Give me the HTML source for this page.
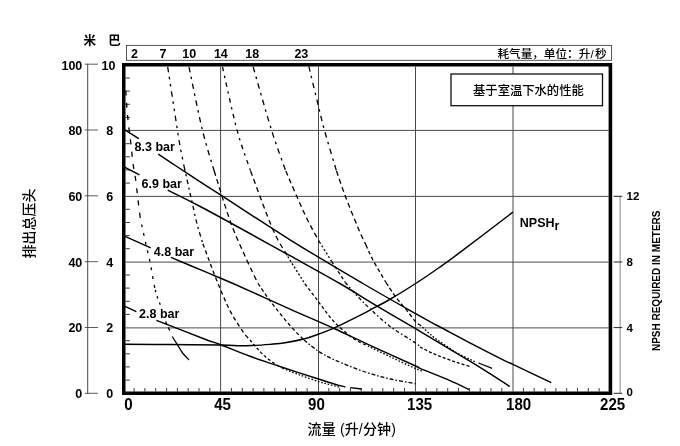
<!DOCTYPE html>
<html lang="zh">
<head>
<meta charset="utf-8">
<title>性能曲线</title>
<style>
html,body{margin:0;padding:0;background:#fff;}
body{width:680px;height:446px;overflow:hidden;font-family:"Liberation Sans","Noto Sans CJK SC",sans-serif;}
svg{display:block;}
</style>
</head>
<body>
<svg width="680" height="446" viewBox="0 0 680 446">
<rect x="0" y="0" width="680" height="446" fill="#fff"/>
<line x1="220.6" y1="66.6" x2="220.6" y2="391.5" stroke="#4a4a4a" stroke-width="1"/>
<line x1="318.5" y1="66.6" x2="318.5" y2="391.5" stroke="#4a4a4a" stroke-width="1"/>
<line x1="415.5" y1="66.6" x2="415.5" y2="391.5" stroke="#4a4a4a" stroke-width="1"/>
<line x1="513.0" y1="66.6" x2="513.0" y2="391.5" stroke="#4a4a4a" stroke-width="1"/>
<line x1="125.5" y1="130.4" x2="608.6" y2="130.4" stroke="#4a4a4a" stroke-width="1"/>
<line x1="125.5" y1="196.4" x2="608.6" y2="196.4" stroke="#4a4a4a" stroke-width="1"/>
<line x1="125.5" y1="262.1" x2="608.6" y2="262.1" stroke="#4a4a4a" stroke-width="1"/>
<line x1="125.5" y1="327.9" x2="608.6" y2="327.9" stroke="#4a4a4a" stroke-width="1"/>
<line x1="134.1" y1="388.0" x2="134.1" y2="391.5" stroke="#333" stroke-width="0.95"/>
<line x1="144.9" y1="388.0" x2="144.9" y2="391.5" stroke="#333" stroke-width="0.95"/>
<line x1="155.7" y1="388.0" x2="155.7" y2="391.5" stroke="#333" stroke-width="0.95"/>
<line x1="166.6" y1="388.0" x2="166.6" y2="391.5" stroke="#333" stroke-width="0.95"/>
<line x1="177.4" y1="388.0" x2="177.4" y2="391.5" stroke="#333" stroke-width="0.95"/>
<line x1="188.2" y1="388.0" x2="188.2" y2="391.5" stroke="#333" stroke-width="0.95"/>
<line x1="199.0" y1="388.0" x2="199.0" y2="391.5" stroke="#333" stroke-width="0.95"/>
<line x1="209.8" y1="388.0" x2="209.8" y2="391.5" stroke="#333" stroke-width="0.95"/>
<line x1="231.4" y1="388.0" x2="231.4" y2="391.5" stroke="#333" stroke-width="0.95"/>
<line x1="242.3" y1="388.0" x2="242.3" y2="391.5" stroke="#333" stroke-width="0.95"/>
<line x1="253.1" y1="388.0" x2="253.1" y2="391.5" stroke="#333" stroke-width="0.95"/>
<line x1="263.9" y1="388.0" x2="263.9" y2="391.5" stroke="#333" stroke-width="0.95"/>
<line x1="274.7" y1="388.0" x2="274.7" y2="391.5" stroke="#333" stroke-width="0.95"/>
<line x1="285.5" y1="388.0" x2="285.5" y2="391.5" stroke="#333" stroke-width="0.95"/>
<line x1="296.3" y1="388.0" x2="296.3" y2="391.5" stroke="#333" stroke-width="0.95"/>
<line x1="307.1" y1="388.0" x2="307.1" y2="391.5" stroke="#333" stroke-width="0.95"/>
<line x1="328.8" y1="388.0" x2="328.8" y2="391.5" stroke="#333" stroke-width="0.95"/>
<line x1="339.6" y1="388.0" x2="339.6" y2="391.5" stroke="#333" stroke-width="0.95"/>
<line x1="350.4" y1="388.0" x2="350.4" y2="391.5" stroke="#333" stroke-width="0.95"/>
<line x1="361.2" y1="388.0" x2="361.2" y2="391.5" stroke="#333" stroke-width="0.95"/>
<line x1="372.0" y1="388.0" x2="372.0" y2="391.5" stroke="#333" stroke-width="0.95"/>
<line x1="382.8" y1="388.0" x2="382.8" y2="391.5" stroke="#333" stroke-width="0.95"/>
<line x1="393.7" y1="388.0" x2="393.7" y2="391.5" stroke="#333" stroke-width="0.95"/>
<line x1="404.5" y1="388.0" x2="404.5" y2="391.5" stroke="#333" stroke-width="0.95"/>
<line x1="426.1" y1="388.0" x2="426.1" y2="391.5" stroke="#333" stroke-width="0.95"/>
<line x1="436.9" y1="388.0" x2="436.9" y2="391.5" stroke="#333" stroke-width="0.95"/>
<line x1="447.7" y1="388.0" x2="447.7" y2="391.5" stroke="#333" stroke-width="0.95"/>
<line x1="458.5" y1="388.0" x2="458.5" y2="391.5" stroke="#333" stroke-width="0.95"/>
<line x1="469.4" y1="388.0" x2="469.4" y2="391.5" stroke="#333" stroke-width="0.95"/>
<line x1="480.2" y1="388.0" x2="480.2" y2="391.5" stroke="#333" stroke-width="0.95"/>
<line x1="491.0" y1="388.0" x2="491.0" y2="391.5" stroke="#333" stroke-width="0.95"/>
<line x1="501.8" y1="388.0" x2="501.8" y2="391.5" stroke="#333" stroke-width="0.95"/>
<line x1="523.4" y1="388.0" x2="523.4" y2="391.5" stroke="#333" stroke-width="0.95"/>
<line x1="534.2" y1="388.0" x2="534.2" y2="391.5" stroke="#333" stroke-width="0.95"/>
<line x1="545.1" y1="388.0" x2="545.1" y2="391.5" stroke="#333" stroke-width="0.95"/>
<line x1="555.9" y1="388.0" x2="555.9" y2="391.5" stroke="#333" stroke-width="0.95"/>
<line x1="566.7" y1="388.0" x2="566.7" y2="391.5" stroke="#333" stroke-width="0.95"/>
<line x1="577.5" y1="388.0" x2="577.5" y2="391.5" stroke="#333" stroke-width="0.95"/>
<line x1="588.3" y1="388.0" x2="588.3" y2="391.5" stroke="#333" stroke-width="0.95"/>
<line x1="599.1" y1="388.0" x2="599.1" y2="391.5" stroke="#333" stroke-width="0.95"/>
<line x1="125.5" y1="380.1" x2="129.9" y2="380.1" stroke="#333" stroke-width="0.95"/>
<line x1="125.5" y1="366.9" x2="129.9" y2="366.9" stroke="#333" stroke-width="0.95"/>
<line x1="125.5" y1="353.8" x2="129.9" y2="353.8" stroke="#333" stroke-width="0.95"/>
<line x1="125.5" y1="340.7" x2="129.9" y2="340.7" stroke="#333" stroke-width="0.95"/>
<line x1="125.5" y1="314.4" x2="129.9" y2="314.4" stroke="#333" stroke-width="0.95"/>
<line x1="125.5" y1="301.3" x2="129.9" y2="301.3" stroke="#333" stroke-width="0.95"/>
<line x1="125.5" y1="288.1" x2="129.9" y2="288.1" stroke="#333" stroke-width="0.95"/>
<line x1="125.5" y1="275.0" x2="129.9" y2="275.0" stroke="#333" stroke-width="0.95"/>
<line x1="125.5" y1="248.7" x2="129.9" y2="248.7" stroke="#333" stroke-width="0.95"/>
<line x1="125.5" y1="235.6" x2="129.9" y2="235.6" stroke="#333" stroke-width="0.95"/>
<line x1="125.5" y1="222.5" x2="129.9" y2="222.5" stroke="#333" stroke-width="0.95"/>
<line x1="125.5" y1="209.3" x2="129.9" y2="209.3" stroke="#333" stroke-width="0.95"/>
<line x1="125.5" y1="183.1" x2="129.9" y2="183.1" stroke="#333" stroke-width="0.95"/>
<line x1="125.5" y1="169.9" x2="129.9" y2="169.9" stroke="#333" stroke-width="0.95"/>
<line x1="125.5" y1="156.8" x2="129.9" y2="156.8" stroke="#333" stroke-width="0.95"/>
<line x1="125.5" y1="143.7" x2="129.9" y2="143.7" stroke="#333" stroke-width="0.95"/>
<line x1="125.5" y1="117.4" x2="129.9" y2="117.4" stroke="#333" stroke-width="0.95"/>
<line x1="125.5" y1="104.3" x2="129.9" y2="104.3" stroke="#333" stroke-width="0.95"/>
<line x1="125.5" y1="91.1" x2="129.9" y2="91.1" stroke="#333" stroke-width="0.95"/>
<line x1="125.5" y1="78.0" x2="129.9" y2="78.0" stroke="#333" stroke-width="0.95"/>
<path d="M124.5,129.6 L138.8,138.6" fill="none" stroke="#000" stroke-width="1.45"/>
<path d="M158.3,154.1 C161.0,155.9 168.0,160.6 174.6,165.0 C181.2,169.4 190.1,175.2 197.9,180.3 C205.7,185.4 206.0,185.5 221.3,195.4 C236.7,205.3 266.4,225.1 290.0,239.8 C313.6,254.5 342.0,271.2 362.9,283.5 C383.8,295.8 403.4,306.7 415.6,313.6 C427.8,320.5 427.2,320.1 436.3,325.0 C445.4,329.9 458.9,337.2 470.3,343.2 C481.8,349.2 497.9,357.3 505.0,360.8 C512.1,364.3 505.2,360.8 512.9,364.4 C520.6,368.0 544.9,379.6 551.3,382.7" fill="none" stroke="#000" stroke-width="1.45"/>
<path d="M124.5,167.2 L139.5,174.8" fill="none" stroke="#000" stroke-width="1.45"/>
<path d="M167.7,190.1 C173.9,193.2 184.6,198.1 205.0,209.0 C225.4,219.9 267.7,243.4 290.0,255.7 C312.3,268.0 324.3,274.5 339.0,283.0 C353.7,291.5 365.2,299.0 378.0,306.6 C390.8,314.2 408.6,324.6 415.6,328.7 C422.6,332.8 415.1,328.4 420.0,331.3 C424.9,334.2 436.7,341.4 445.1,346.4 C453.5,351.4 461.1,355.8 470.3,361.4 C479.5,367.0 493.8,376.1 500.4,380.3 C507.0,384.5 508.2,385.5 509.8,386.5" fill="none" stroke="#000" stroke-width="1.45"/>
<path d="M124.5,236.1 L150.8,247.9" fill="none" stroke="#000" stroke-width="1.45"/>
<path d="M170.9,257.4 C176.6,259.8 194.7,267.3 205.0,271.7 C215.3,276.1 218.8,277.3 233.0,283.5 C247.2,289.7 273.2,301.6 290.0,309.1 C306.8,316.6 321.0,322.6 334.0,328.5 C347.0,334.4 354.3,338.1 367.9,344.3 C381.5,350.6 406.9,362.0 415.6,366.0 C424.3,370.0 414.4,365.9 420.0,368.3 C425.6,370.7 441.4,376.8 449.5,380.3 C457.6,383.8 465.7,388.0 468.9,389.5" fill="none" stroke="#000" stroke-width="1.45"/>
<path d="M124.5,306.1 L136.3,311.6" fill="none" stroke="#000" stroke-width="1.45"/>
<path d="M156.4,320.4 C164.5,323.5 194.2,335.1 205.0,339.2 C215.8,343.3 213.8,342.1 221.3,345.0 C228.8,347.9 240.0,352.6 250.0,356.3 C260.0,360.0 270.0,363.2 281.4,367.0 C292.8,370.8 309.6,376.1 318.5,379.0 C327.4,381.9 330.5,382.9 335.0,384.2 C339.5,385.5 343.6,386.5 345.3,387.0" fill="none" stroke="#000" stroke-width="1.45"/>
<path d="M350.3,387.6 L361.6,389.0" fill="none" stroke="#000" stroke-width="1.45"/>
<path d="M124.5,344.3 C132.1,344.3 153.9,344.4 170.0,344.5 C186.1,344.6 209.6,344.8 221.3,345.0 C233.0,345.2 234.4,345.7 240.0,345.8 C245.6,345.9 250.0,345.6 255.0,345.4 C260.0,345.2 265.0,344.8 270.0,344.4 C275.0,343.9 279.4,343.6 285.0,342.7 C290.6,341.8 298.2,340.4 303.8,339.0 C309.4,337.6 313.4,336.0 318.3,334.2 C323.2,332.4 328.5,330.4 333.4,328.3 C338.3,326.2 343.3,323.6 347.8,321.4 C352.3,319.2 356.7,317.0 360.4,315.1 C364.1,313.2 365.0,312.8 370.0,310.1 C375.0,307.4 382.9,303.4 390.5,299.0 C398.1,294.6 407.4,288.8 415.6,283.5 C423.9,278.2 432.6,272.2 440.0,267.0 C447.4,261.8 447.9,261.5 460.0,252.4 C472.1,243.3 504.1,218.9 512.9,212.2" fill="none" stroke="#000" stroke-width="1.45"/>
<path d="M125.8,90.5 C125.9,92.2 126.2,97.2 126.4,101.0 C126.7,104.8 126.9,108.9 127.3,113.0 C127.7,117.1 128.2,121.7 128.6,125.5 C129.0,129.3 129.6,132.3 130.0,136.0 C130.4,139.7 130.9,143.5 131.3,147.5 C131.7,151.5 132.2,156.4 132.6,160.2 C133.0,163.9 133.5,166.7 134.0,170.0 C134.5,173.3 135.1,175.6 135.7,180.0 C136.3,184.4 136.9,190.3 137.6,196.4 C138.3,202.5 139.6,212.9 140.1,216.5 C140.6,220.1 140.3,217.8 140.4,218.0" fill="none" stroke="#000" stroke-width="1.3" stroke-dasharray="5 7.3"/>
<path d="M141.6,224.5 C141.7,225.1 141.6,224.3 142.4,228.0 C143.2,231.7 145.1,240.6 146.4,246.4 C147.7,252.2 149.0,257.1 150.2,262.7 C151.3,268.3 152.5,275.8 153.3,280.3 C154.1,284.9 154.9,288.4 155.2,290.0" fill="none" stroke="#000" stroke-width="1.3" stroke-dasharray="2.8 6"/>
<path d="M155.2,290.0 C155.6,291.2 156.6,295.0 157.5,297.5 C158.4,300.0 159.9,303.8 160.4,305.0" fill="none" stroke="#000" stroke-width="1.3" stroke-dasharray="2.5 4"/>
<path d="M165.6,321.4 C165.9,322.2 166.7,324.3 167.5,326.0 C168.3,327.7 169.9,330.8 170.4,331.7" fill="none" stroke="#000" stroke-width="1.3" stroke-dasharray="3.2 3.4"/>
<path d="M172.3,336.5 C173.2,338.0 176.0,342.5 177.8,345.3 C179.6,348.1 181.1,351.1 183.0,353.5 C184.9,355.9 188.0,358.9 189.0,360.0" fill="none" stroke="#000" stroke-width="1.3"/>
<path d="M167.7,67.0 C169.3,77.3 175.1,115.4 177.2,128.8 C179.3,142.2 179.2,141.3 180.3,147.6 C181.5,153.9 183.5,163.3 184.1,166.5" fill="none" stroke="#000" stroke-width="1.3" stroke-dasharray="5.5 4.5 2.5 4.8 2.5 4.8"/>
<path d="M184.1,166.5 C184.8,169.8 187.2,180.4 188.5,186.4 C189.8,192.4 190.7,196.3 192.2,202.7 C193.7,209.1 195.5,218.2 197.3,225.0 C199.1,231.8 202.0,240.7 202.9,243.8" fill="none" stroke="#000" stroke-width="1.3" stroke-dasharray="4.5 3.5 2 3.5"/>
<path d="M202.9,243.8 C203.8,246.1 205.5,250.8 208.0,257.4 C210.5,264.0 214.2,274.5 218.0,283.5 C221.8,292.5 226.3,303.6 230.5,311.6 C234.7,319.6 239.8,327.0 243.0,331.7 C246.2,336.4 248.8,338.6 250.0,340.0" fill="none" stroke="#000" stroke-width="1.3" stroke-dasharray="4 3.2"/>
<path d="M250.0,340.0 C251.1,341.2 253.8,344.8 256.3,347.5 C258.8,350.2 261.9,353.6 265.0,356.3 C268.1,359.0 272.2,361.9 275.1,363.9 C278.1,365.9 281.4,367.6 282.7,368.3" fill="none" stroke="#000" stroke-width="1.3" stroke-dasharray="3 2.2"/>
<path d="M282.7,368.3 C285.6,369.4 294.3,373.0 300.3,375.2 C306.3,377.4 313.5,379.9 318.5,381.5 C323.5,383.1 326.8,383.8 330.4,384.8 C334.0,385.8 338.4,386.9 340.0,387.3" fill="none" stroke="#000" stroke-width="1.3" stroke-dasharray="1.6 1.8"/>
<path d="M189.0,67.0 C191.2,77.5 198.2,112.7 202.4,130.0 C206.6,147.3 212.2,164.2 214.2,171.0" fill="none" stroke="#000" stroke-width="1.3" stroke-dasharray="5.5 4.5 2.5 4.5"/>
<path d="M214.2,171.0 C216.9,179.5 225.3,207.6 230.5,222.0 C235.7,236.4 241.0,247.1 245.6,257.4 C250.2,267.6 255.9,279.1 258.0,283.5" fill="none" stroke="#000" stroke-width="1.3" stroke-dasharray="5 3.6"/>
<path d="M258.0,283.5 C260.1,286.5 265.4,294.6 270.7,301.6 C276.0,308.6 284.4,319.1 290.0,325.5 C295.6,331.9 301.7,337.6 304.0,340.0" fill="none" stroke="#000" stroke-width="1.3" stroke-dasharray="3.6 2.6"/>
<path d="M304.0,340.0 C306.4,341.9 313.3,347.9 318.5,351.3 C323.7,354.7 327.2,356.7 335.0,360.1 C342.8,363.6 356.1,368.9 365.4,372.0 C374.6,375.1 382.1,377.1 390.5,379.0 C398.9,380.9 411.4,382.9 415.6,383.7" fill="none" stroke="#000" stroke-width="1.3" stroke-dasharray="4 2 1.5 2"/>
<path d="M222.5,67.0 C224.9,77.5 232.3,112.7 237.0,130.0 C241.7,147.3 248.3,164.2 250.6,171.0" fill="none" stroke="#000" stroke-width="1.3" stroke-dasharray="4.4 4.6 2.4 4.6"/>
<path d="M250.6,171.0 C254.3,180.8 266.8,215.6 273.0,229.8 C279.2,244.1 285.5,252.1 288.0,256.5" fill="none" stroke="#000" stroke-width="1.3" stroke-dasharray="5 3.7"/>
<path d="M288.0,256.5 C288.3,257.1 287.2,255.4 290.0,260.0 C292.8,264.6 302.5,280.0 305.0,284.0" fill="none" stroke="#000" stroke-width="1.3" stroke-dasharray="2 2"/>
<path d="M305.0,284.0 C307.2,286.9 313.6,295.3 318.4,301.6 C323.2,307.9 328.3,315.6 334.0,321.7 C339.7,327.8 347.2,333.9 352.8,338.0 C358.4,342.1 365.4,344.7 367.9,346.0" fill="none" stroke="#000" stroke-width="1.3" stroke-dasharray="3.2 2.4"/>
<path d="M367.9,346.0 C371.7,347.8 382.6,353.1 390.5,356.9 C398.4,360.7 410.2,366.2 415.6,368.6 C421.0,371.0 421.8,370.8 423.0,371.2" fill="none" stroke="#000" stroke-width="1.3" stroke-dasharray="1.6 1.8"/>
<path d="M253.2,67.0 C256.2,77.5 266.1,112.7 271.5,130.0 C276.9,147.3 283.4,164.2 285.8,171.0" fill="none" stroke="#000" stroke-width="1.3" stroke-dasharray="5.5 4.5 2.5 4.5"/>
<path d="M285.8,171.0 C289.0,178.3 299.7,203.4 305.0,214.7 C310.3,226.0 315.2,234.0 317.6,238.6 C320.0,243.2 319.2,241.4 319.5,242.0" fill="none" stroke="#000" stroke-width="1.3" stroke-dasharray="5 3.5"/>
<path d="M319.5,242.0 L331.5,261.2" fill="none" stroke="#000" stroke-width="1.3" stroke-dasharray="2 2.2"/>
<path d="M331.5,261.2 L345.3,282.5" fill="none" stroke="#000" stroke-width="1.3" stroke-dasharray="3.4 2.6"/>
<path d="M345.3,282.5 C347.2,284.6 352.4,290.9 356.6,295.3 C360.8,299.7 364.8,303.9 370.4,309.1 C376.0,314.3 383.0,321.1 390.5,326.7 C398.0,332.3 410.7,339.6 415.6,343.0 C420.5,346.4 419.3,346.3 420.0,347.0" fill="none" stroke="#000" stroke-width="1.3" stroke-dasharray="3.6 2.4 1.6 2.4"/>
<path d="M420.0,347.0 C422.1,348.1 428.4,351.4 432.6,353.3 C436.8,355.2 440.9,356.7 445.1,358.3 C449.3,359.9 453.5,361.3 457.7,362.7 C461.9,364.1 468.2,365.9 470.3,366.5" fill="none" stroke="#000" stroke-width="1.3" stroke-dasharray="3 2"/>
<path d="M308.8,66.3 C310.3,72.4 315.0,92.1 317.6,102.7 C320.2,113.3 321.2,118.6 324.4,130.0 C327.5,141.4 334.5,164.2 336.5,171.0" fill="none" stroke="#000" stroke-width="1.3" stroke-dasharray="5.5 4.5 2.5 4.5"/>
<path d="M336.5,171.0 C338.0,175.2 341.8,186.7 345.3,196.1 C348.9,205.5 354.4,219.2 357.8,227.3 C361.2,235.5 364.6,242.1 366.0,245.0" fill="none" stroke="#000" stroke-width="1.3" stroke-dasharray="5 3.5"/>
<path d="M366.0,245.0 C367.1,247.5 369.6,253.8 372.9,260.0 C376.2,266.2 383.8,278.8 386.0,282.5" fill="none" stroke="#000" stroke-width="1.3" stroke-dasharray="3.8 2.8"/>
<path d="M386.0,282.5 C387.6,284.9 392.0,292.0 395.5,296.6 C399.0,301.2 403.4,306.2 406.8,310.4 C410.2,314.6 413.4,319.3 415.6,321.7 C417.8,324.1 419.3,324.4 420.0,325.0" fill="none" stroke="#000" stroke-width="1.3" stroke-dasharray="4 2.5"/>
<path d="M420.0,325.0 C422.1,326.9 428.4,332.9 432.6,336.3 C436.8,339.7 440.9,342.3 445.1,345.1 C449.3,347.9 453.5,350.9 457.7,353.3 C461.9,355.7 467.2,358.0 470.3,359.5 C473.4,361.0 475.5,361.9 476.5,362.4" fill="none" stroke="#000" stroke-width="1.3" stroke-dasharray="1.6 1.8"/>
<path d="M478.5,363.0 L492.2,368.3" fill="none" stroke="#000" stroke-width="1.3"/>
<path fill="#000" fill-rule="evenodd" d="M122.0,63.0 H612.2 V395.0 H122.0 Z M125.5,66.6 H608.6 V391.5 H125.5 Z"/>
<rect x="126.5" y="45.4" width="485" height="14.9" fill="none" stroke="#444" stroke-width="0.9"/>
<rect x="451" y="74" width="151.5" height="31.7" fill="#fff" stroke="#111" stroke-width="1.3"/>
<line x1="87.7" y1="63.8" x2="87.7" y2="393.8" stroke="#4a4a4a" stroke-width="1"/>
<line x1="84.8" y1="393.3" x2="98" y2="393.3" stroke="#4a4a4a" stroke-width="0.9"/>
<line x1="84.8" y1="327.5" x2="98" y2="327.5" stroke="#4a4a4a" stroke-width="0.9"/>
<line x1="84.8" y1="261.7" x2="98" y2="261.7" stroke="#4a4a4a" stroke-width="0.9"/>
<line x1="84.8" y1="195.8" x2="98" y2="195.8" stroke="#4a4a4a" stroke-width="0.9"/>
<line x1="84.8" y1="130.0" x2="98" y2="130.0" stroke="#4a4a4a" stroke-width="0.9"/>
<line x1="84.8" y1="64.2" x2="98" y2="64.2" stroke="#4a4a4a" stroke-width="0.9"/>
<line x1="620.1" y1="195.7" x2="620.1" y2="393.3" stroke="#858585" stroke-width="1"/>
<line x1="613.5" y1="393.3" x2="622.3" y2="393.3" stroke="#2a2a2a" stroke-width="1"/>
<line x1="613.5" y1="327.6" x2="622.3" y2="327.6" stroke="#2a2a2a" stroke-width="1"/>
<line x1="613.5" y1="262.0" x2="622.3" y2="262.0" stroke="#2a2a2a" stroke-width="1"/>
<line x1="613.5" y1="196.3" x2="622.3" y2="196.3" stroke="#2a2a2a" stroke-width="1"/>
<text transform="translate(82.3,398.1) scale(1.000,1)" font-size="12.5" text-anchor="end" font-family="Liberation Sans, Arial, sans-serif" font-weight="bold" >0</text>
<text transform="translate(82.3,332.4) scale(1.000,1)" font-size="12.5" text-anchor="end" font-family="Liberation Sans, Arial, sans-serif" font-weight="bold" >20</text>
<text transform="translate(82.3,266.8) scale(1.000,1)" font-size="12.5" text-anchor="end" font-family="Liberation Sans, Arial, sans-serif" font-weight="bold" >40</text>
<text transform="translate(82.3,201.1) scale(1.000,1)" font-size="12.5" text-anchor="end" font-family="Liberation Sans, Arial, sans-serif" font-weight="bold" >60</text>
<text transform="translate(82.3,135.4) scale(1.000,1)" font-size="12.5" text-anchor="end" font-family="Liberation Sans, Arial, sans-serif" font-weight="bold" >80</text>
<text transform="translate(82.3,69.7) scale(1.000,1)" font-size="12.5" text-anchor="end" font-family="Liberation Sans, Arial, sans-serif" font-weight="bold" >100</text>
<text transform="translate(109.6,398.1) scale(1.000,1)" font-size="12.5" text-anchor="middle" font-family="Liberation Sans, Arial, sans-serif" font-weight="bold" >0</text>
<text transform="translate(109.6,332.4) scale(1.000,1)" font-size="12.5" text-anchor="middle" font-family="Liberation Sans, Arial, sans-serif" font-weight="bold" >2</text>
<text transform="translate(109.6,266.8) scale(1.000,1)" font-size="12.5" text-anchor="middle" font-family="Liberation Sans, Arial, sans-serif" font-weight="bold" >4</text>
<text transform="translate(109.6,201.1) scale(1.000,1)" font-size="12.5" text-anchor="middle" font-family="Liberation Sans, Arial, sans-serif" font-weight="bold" >6</text>
<text transform="translate(109.6,135.4) scale(1.000,1)" font-size="12.5" text-anchor="middle" font-family="Liberation Sans, Arial, sans-serif" font-weight="bold" >8</text>
<text transform="translate(108.4,69.7) scale(1.000,1)" font-size="12.5" text-anchor="middle" font-family="Liberation Sans, Arial, sans-serif" font-weight="bold" >10</text>
<text transform="translate(89.7,45.3) scale(1.000,1)" font-size="12.5" text-anchor="middle" font-family="Liberation Sans, Noto Sans CJK SC, sans-serif" font-weight="bold" >米</text>
<text transform="translate(114.6,45.3) scale(1.000,1)" font-size="12.5" text-anchor="middle" font-family="Liberation Sans, Noto Sans CJK SC, sans-serif" font-weight="bold" >巴</text>
<text transform="translate(131.0,57.9) scale(1.000,1)" font-size="12.5" text-anchor="start" font-family="Liberation Sans, Arial, sans-serif" font-weight="bold" >2</text>
<text transform="translate(159.6,57.9) scale(1.000,1)" font-size="12.5" text-anchor="start" font-family="Liberation Sans, Arial, sans-serif" font-weight="bold" >7</text>
<text transform="translate(182.2,57.9) scale(1.000,1)" font-size="12.5" text-anchor="start" font-family="Liberation Sans, Arial, sans-serif" font-weight="bold" >10</text>
<text transform="translate(213.9,57.9) scale(1.000,1)" font-size="12.5" text-anchor="start" font-family="Liberation Sans, Arial, sans-serif" font-weight="bold" >14</text>
<text transform="translate(245.3,57.9) scale(1.000,1)" font-size="12.5" text-anchor="start" font-family="Liberation Sans, Arial, sans-serif" font-weight="bold" >18</text>
<text transform="translate(294.4,57.9) scale(1.000,1)" font-size="12.5" text-anchor="start" font-family="Liberation Sans, Arial, sans-serif" font-weight="bold" >23</text>
<text transform="translate(606.6,58)" font-size="11.6" text-anchor="end" font-family="Liberation Sans, Noto Sans CJK SC, sans-serif" font-weight="500">耗气量，单位：升<tspan dx="0.3">/</tspan><tspan dx="1.2">秒</tspan></text>
<text transform="translate(528.4,94.9) scale(1.000,1)" font-size="12.3" text-anchor="middle" font-family="Liberation Sans, Noto Sans CJK SC, sans-serif" font-weight="500" >基于室温下水的性能</text>
<text transform="translate(128.4,410.3) scale(0.955,1)" font-size="15.8" text-anchor="middle" font-family="Liberation Sans, Arial, sans-serif" font-weight="bold" >0</text>
<text transform="translate(222.6,410.3) scale(0.955,1)" font-size="15.8" text-anchor="middle" font-family="Liberation Sans, Arial, sans-serif" font-weight="bold" >45</text>
<text transform="translate(316.4,410.3) scale(0.955,1)" font-size="15.8" text-anchor="middle" font-family="Liberation Sans, Arial, sans-serif" font-weight="bold" >90</text>
<text transform="translate(419.6,410.3) scale(0.955,1)" font-size="15.8" text-anchor="middle" font-family="Liberation Sans, Arial, sans-serif" font-weight="bold" >135</text>
<text transform="translate(518.6,410.3) scale(0.955,1)" font-size="15.8" text-anchor="middle" font-family="Liberation Sans, Arial, sans-serif" font-weight="bold" >180</text>
<text transform="translate(612.6,410.3) scale(0.955,1)" font-size="15.8" text-anchor="middle" font-family="Liberation Sans, Arial, sans-serif" font-weight="bold" >225</text>
<text transform="translate(351.8,434.1) scale(1.000,1)" font-size="14.0" text-anchor="middle" font-family="Liberation Sans, Noto Sans CJK SC, sans-serif" font-weight="500" letter-spacing="0.15">流量 (升/分钟)</text>
<text transform="translate(33.8,223.5) rotate(-90)" font-size="14" text-anchor="middle" font-family="Liberation Sans, Noto Sans CJK SC, sans-serif" font-weight="500">排出总压头</text>
<text transform="translate(626.6,396.2) scale(1.000,1)" font-size="11.5" text-anchor="start" font-family="Liberation Sans, Arial, sans-serif" font-weight="bold" >0</text>
<text transform="translate(626.6,331.9) scale(1.000,1)" font-size="11.5" text-anchor="start" font-family="Liberation Sans, Arial, sans-serif" font-weight="bold" >4</text>
<text transform="translate(626.6,266.3) scale(1.000,1)" font-size="11.5" text-anchor="start" font-family="Liberation Sans, Arial, sans-serif" font-weight="bold" >8</text>
<text transform="translate(626.6,200.0) scale(1.000,1)" font-size="11.5" text-anchor="start" font-family="Liberation Sans, Arial, sans-serif" font-weight="bold" >12</text>
<text transform="translate(659.9,280.8) rotate(-90)" font-size="10" text-anchor="middle" font-family="Liberation Sans, Arial, sans-serif" font-weight="bold">NPSH REQUIRED IN METERS</text>
<text transform="translate(134.6,151.0) scale(1.000,1)" font-size="12.5" text-anchor="start" font-family="Liberation Sans, Arial, sans-serif" font-weight="bold" >8.3 bar</text>
<text transform="translate(141.6,188.3) scale(1.000,1)" font-size="12.5" text-anchor="start" font-family="Liberation Sans, Arial, sans-serif" font-weight="bold" >6.9 bar</text>
<text transform="translate(153.8,255.5) scale(1.000,1)" font-size="12.5" text-anchor="start" font-family="Liberation Sans, Arial, sans-serif" font-weight="bold" >4.8 bar</text>
<text transform="translate(139.1,317.8) scale(1.000,1)" font-size="12.5" text-anchor="start" font-family="Liberation Sans, Arial, sans-serif" font-weight="bold" >2.8 bar</text>
<text transform="translate(519.8,227.0)" font-size="12.5" font-family="Liberation Sans, Arial, sans-serif" font-weight="bold">NPSH<tspan dy="3">r</tspan></text>
</svg>
</body>
</html>
